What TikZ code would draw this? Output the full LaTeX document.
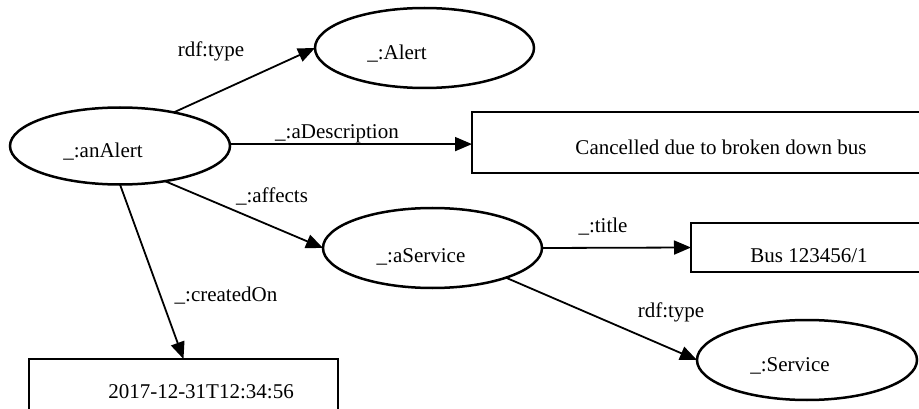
\documentclass[tikz,border=0pt]{standalone}
\usepackage{fontspec}
\setmainfont{Liberation Serif}
\usetikzlibrary{shapes.geometric,arrows.meta}
\newcommand{\offtext}[3]{\raisebox{#2}[0pt][0pt]{\makebox[0pt]{\hspace*{#1}\hspace*{#1}#3}}}
\begin{document}
\begin{tikzpicture}[x=1pt,y=-1pt,font=\fontsize{21}{25}\selectfont,
  res/.style={ellipse,draw,line width=2.5pt,inner sep=0pt,outer sep=0pt},
  lit/.style={rectangle,draw,line width=2.5pt,inner sep=0pt,outer sep=0pt},
  edge/.style={line width=1.8pt,-{Triangle[length=17pt,width=14pt]}},
  lbl/.style={inner sep=0pt,anchor=base}]
\useasboundingbox (0,0) rectangle (919,409);
\clip (0,0) rectangle (919,409);
\node[res,minimum width=220pt,minimum height=77pt] (anAlert) at (120,146) {\offtext{-17pt}{-11.5pt}{\_:anAlert}};
\node[res,minimum width=219pt,minimum height=80pt] (Alert) at (424.5,48) {\offtext{-27.5pt}{-11.3pt}{\_:Alert}};
\node[lit,minimum width=498pt,minimum height=61pt] (desc) at (721,142.5) {\offtext{0pt}{-12.5pt}{Cancelled due to broken down bus}};
\node[res,minimum width=219pt,minimum height=80pt] (aService) at (432.5,248) {\offtext{-11.5pt}{-14pt}{\_:aService}};
\node[lit,minimum width=236pt,minimum height=49pt] (bus) at (809,247.5) {\offtext{0pt}{-14.5pt}{Bus 123456/1}};
\node[res,minimum width=220pt,minimum height=80pt] (Service) at (807,360) {\offtext{-17pt}{-11.5pt}{\_:Service}};
\node[lit,minimum width=309pt,minimum height=62pt] (date) at (183.5,390) {\offtext{17.5pt}{-8pt}{2017-12-31T12:34:56}};
\draw[edge] (anAlert.32) -- (Alert.west);
\draw[edge] (anAlert.1.5) -- (anAlert.1.5 -| desc.west);
\draw[edge] (anAlert.322) -- (aService.west);
\draw[edge] (anAlert.south) -- (date.north);
\draw[edge] (aService.east) -- (bus.west);
\draw[edge] (aService.338) -- (Service.west);
\node[lbl] (l1) at (211,56.7) {rdf:type};
\node[lbl] (l2) at (337,138.3) {\_:aDescription};
\node[lbl] (l3) at (272,202.7) {\_:affects};
\node[lbl] (l4) at (226,301) {\_:createdOn};
\node[lbl] (l5) at (603,232.3) {\_:title};
\node[lbl] (l6) at (671,317.3) {rdf:type};
\end{tikzpicture}
\end{document}
